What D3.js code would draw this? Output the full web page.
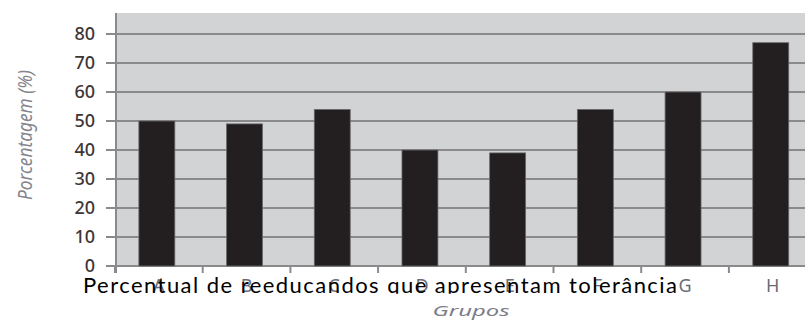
<!DOCTYPE html>
<html>
<head>
<meta charset="utf-8">
<script src="https://cdn.jsdelivr.net/npm/d3@7"></script>
<style>
  html, body { margin: 0; padding: 0; background: #fff; }
  svg { display: block; }
</style>
</head>
<body>
<div id="chart"></div>
<script>
// data
const groups = ['A', 'B', 'C', 'D', 'E', 'F', 'G', 'H'];
const values = [50, 49, 54, 40, 39, 54, 60, 77];
const yTicks = [0, 10, 20, 30, 40, 50, 60, 70, 80, 90];
const yTitle = 'Porcentagem (%)';
const xTitle = 'Grupos';
const overlay = 'Percentual de reeducandos que apresentam tolerância';

const W = 805, H = 320;
const plotTop = 13, plotLeft = 116, base = 266;

const svg = d3.select('#chart').append('svg').attr('width', W).attr('height', H);

const y = d3.scaleLinear().domain([0, 90]).range([base, 5]);
const x = d3.scaleBand().domain(groups).range([115, 816.6]).paddingInner(0.59).paddingOuter(0.295);
const xt = d3.scaleBand().domain(groups).range([115, 816.6]);

// plot background
svg.append('rect').attr('x', plotLeft).attr('y', plotTop).attr('width', W - plotLeft).attr('height', base - plotTop).attr('fill', '#d2d3d5');

// grid lines
svg.append('g').selectAll('line').data(yTicks.filter(d => y(d) > plotTop)).join('line')
  .attr('x1', 106).attr('x2', W).attr('y1', d => y(d)).attr('y2', d => y(d))
  .attr('stroke', '#8a8a8c').attr('stroke-width', 2);

// y labels
svg.append('g').selectAll('text').data(yTicks).join('text')
  .attr('x', 95).attr('y', d => y(d)).attr('dy', '0.36em')
  .attr('text-anchor', 'end')
  .attr('font-family', '"Noto Sans", sans-serif').attr('font-size', 18).attr('font-weight', 500)
  .attr('fill', '#3e3636').text(d => d);

// x tick marks at group boundaries
svg.append('g').selectAll('line').data(groups).join('line')
  .attr('x1', d => xt(d)).attr('x2', d => xt(d)).attr('y1', base).attr('y2', 273)
  .attr('stroke', '#8a8a8c').attr('stroke-width', 2);

// bars
svg.append('g').selectAll('rect').data(values).join('rect')
  .attr('x', (d, i) => x(groups[i]) - 2).attr('y', d => y(d))
  .attr('width', x.bandwidth()).attr('height', d => base - y(d))
  .attr('fill', '#231f20').attr('stroke', '#6a6a6a').attr('stroke-width', 0.8);

// left axis line
svg.append('line').attr('x1', plotLeft).attr('x2', plotLeft).attr('y1', plotTop).attr('y2', 273)
  .attr('stroke', '#8a8a8c').attr('stroke-width', 2);

// group labels
svg.append('g').selectAll('text').data(groups).join('text')
  .attr('x', d => x(d) - 2 + x.bandwidth() / 2 + 2).attr('y', 292)
  .attr('text-anchor', 'middle')
  .attr('font-family', '"Noto Sans", sans-serif').attr('font-size', 18)
  .attr('fill', '#6a6a76').text(d => d);

// axis titles
svg.append('text').attr('transform', 'translate(32,135) rotate(-90)')
  .attr('text-anchor', 'middle').attr('font-style', 'italic')
  .attr('font-family', '"Noto Sans", sans-serif').attr('font-size', 19)
  .attr('textLength', 130).attr('lengthAdjust', 'spacingAndGlyphs')
  .attr('fill', '#85858d').text(yTitle);

svg.append('text').attr('x', 471).attr('y', 316).attr('text-anchor', 'middle')
  .attr('font-style', 'italic')
  .attr('font-family', '"Noto Sans", sans-serif').attr('font-size', 15)
  .attr('textLength', 77).attr('lengthAdjust', 'spacingAndGlyphs')
  .attr('fill', '#7d7d88').text(xTitle);

// white strip cropping the top
svg.append('rect').attr('x', 0).attr('y', 0).attr('width', W).attr('height', 12.5).attr('fill', '#fff');

// overlaid caption, descenders cut off
svg.append('clipPath').attr('id', 'cap').append('rect')
  .attr('x', 0).attr('y', 260).attr('width', W).attr('height', 33.8);
svg.append('text').attr('clip-path', 'url(#cap)')
  .attr('x', 83).attr('y', 293)
  .attr('font-family', 'Lato, sans-serif').attr('font-size', 22)
  .attr('textLength', 594).attr('lengthAdjust', 'spacing')
  .attr('fill', '#000').text(overlay);
</script>
</body>
</html>
